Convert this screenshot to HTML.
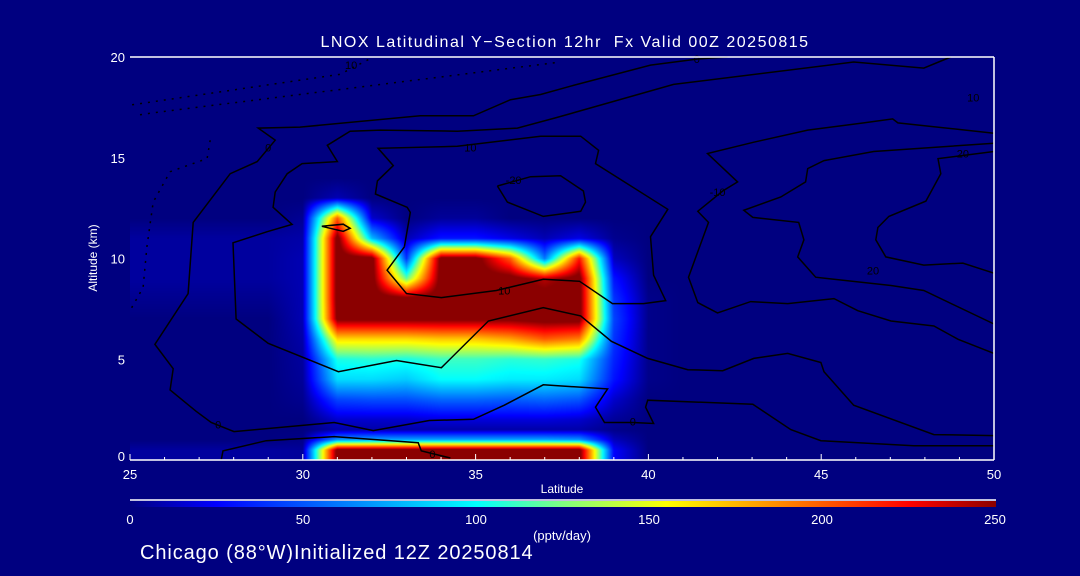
<!DOCTYPE html>
<html><head><meta charset="utf-8">
<style>
html,body{margin:0;padding:0;background:#000080;}
body{width:1080px;height:576px;position:relative;overflow:hidden;font-family:"Liberation Sans",sans-serif;color:#fff;}
.t{position:absolute;white-space:nowrap;}
</style></head>
<body>
<div class="t" style="left:0;width:1130px;top:34px;text-align:center;font-size:16px;letter-spacing:1.5px;">LNOX Latitudinal Y&#8722;Section 12hr&nbsp; Fx Valid 00Z 20250815</div>
<canvas id="hm" width="864" height="403" style="position:absolute;left:130px;top:57px;"></canvas>
<svg id="ov" width="1080" height="576" style="position:absolute;left:0;top:0;"></svg>
<div class="t" style="left:93px;top:258px;font-size:12px;transform:translate(-50%,-50%) rotate(-90deg);">Altitude (km)</div>
<div class="t" style="left:562px;top:482px;font-size:12px;transform:translateX(-50%);">Latitude</div>
<div class="t" style="left:562px;top:528px;font-size:13px;transform:translateX(-50%);">(pptv/day)</div>
<div class="t" style="left:140px;top:542px;font-size:20px;letter-spacing:0.9px;">Chicago (88°W)Initialized 12Z 20250814</div>
<script>
const lats=[25,26,27,28,29,30,31,32,33,34,35,36,37,38,39,40,41,42,43,44,45,46,47,48,49,50];
const alts=[0,0.5,1,1.5,2,3,4,5,6,7,8,9,10,11,12,13,14,20];
const Z=[0,0,0,0,0,0,0,0,0,0];
const row0=[6,6,6,6,6,5,260,260,260,260,260,260,260,260,25,0].concat(Z);
const row05=[6,6,6,6,6,5,260,260,260,260,260,260,260,260,25,0].concat(Z);
const row1=[0,0,0,0,0,2,70,75,75,75,75,75,75,70,12,0].concat(Z);
const row15=[0,0,0,0,0,0,8,8,8,8,8,8,8,8,2,0].concat(Z);
const row2=[0,0,0,0,0,0,15,15,15,18,18,18,18,15,5,0].concat(Z);
const row3=[0,0,0,0,0,3,45,48,48,55,55,52,55,50,15,0].concat(Z);
const row4=[0,0,0,0,0,5,90,90,85,100,100,95,95,90,30,2].concat(Z);
const row5=[0,0,0,0,0,6,105,108,105,112,112,108,110,105,35,2].concat(Z);
const row6=[0,0,0,0,0,8,165,165,165,170,170,180,200,190,40,2].concat(Z);
const row7=[0,0,0,0,0,10,255,255,255,255,255,255,260,260,45,2].concat(Z);
const row8=[3,3,3,3,3,10,260,260,260,260,260,260,260,260,40,2].concat(Z);
const row9=[6,6,6,6,6,10,260,260,120,260,260,260,240,260,30,0].concat(Z);
const row10=[6,6,6,6,6,10,260,260,40,260,260,200,60,220,12,0].concat(Z);
const row11=[6,6,6,6,6,8,260,80,10,30,30,20,10,20,3,0].concat(Z);
const row12=[0,0,0,0,0,4,200,15,0,5,5,0,0,0,0,0].concat(Z);
const row13=[0,0,0,0,0,0,10,0,0,0,0,0,0,0,0,0].concat(Z);
const row14=[0,0,0,0,0,0,0,0,0,0,0,0,0,0,0,0].concat(Z);
const row20=[0,0,0,0,0,0,0,0,0,0,0,0,0,0,0,0].concat(Z);
const grid=[row0,row05,row1,row15,row2,row3,row4,row5,row6,row7,row8,row9,row10,row11,row12,row13,row14,row20];
const xTicks=[25,30,35,40,45,50];
const yTicks=[0,5,10,15,20];
const cbTicks=[0,50,100,150,200,250];
const cZero=[[42.29,20],[41.43,19.9],[40.06,19.6],[37.83,18.59],[36.88,18.14],[36.01,17.88],[34.94,17.08],[33.4,17.08],[29.92,16.52],[28.71,16.47],[29.2,15.87],[28.68,14.81],[27.9,14.21],[26.83,11.79],[26.68,8.26],[25.72,5.74],[26.25,4.53],[26.16,3.48],[26.91,2.42],[27.35,1.86],[28.01,1.41],[30.91,1.86],[32.04,1.46],[33.66,1.96],[34.94,2.02],[35.83,2.72],[36.96,3.73],[38.82,3.53],[38.47,2.62],[38.73,1.86],[39.54,1.86],[40.15,1.81],[39.92,2.62],[39.98,2.97],[43.02,2.77],[44.12,1.51],[44.99,0.96],[47.68,0.71],[50,0.71]];
const cSurface=[[27.64,0],[27.69,0.45],[28.94,0.96],[30.91,1.16],[33.34,0.86],[33.43,0.45],[34.27,0.1]];
const cMinus10=[[48.75,20],[47.97,19.45],[45.94,19.75],[40.73,18.64],[37.31,16.98],[36.21,16.47],[34.47,16.32],[32.24,16.37],[31.37,16.32],[30.71,15.62],[31,14.81],[29.98,14.71],[29.55,14.21],[29.2,13.3],[29.14,12.54],[29.69,11.69],[28.97,11.33],[27.98,10.78],[28.07,7],[29,5.79],[31.03,4.38],[32.71,4.94],[34.01,4.58],[35.37,6.9],[36.96,7.56],[38.04,7.15],[38.93,5.89],[39.98,5.04],[41.14,4.48],[42.15,4.43],[43.05,5.04],[44.03,5.29],[44.99,4.84],[45.08,4.38],[45.94,2.72],[48.26,1.26],[50,1.21]];
const cTen=[[32.94,10.58],[32.44,9.42],[33,8.26],[34.01,8.06],[35.6,8.41],[36.96,8.97],[38.01,8.87],[38.96,7.76],[39.86,7.76],[40.5,7.91],[40.15,9.17],[40.06,11.08],[40.56,12.44],[38.47,14.71],[38.56,15.37],[38.04,16.07],[36.88,16.07],[34.47,15.57],[32.18,15.47],[32.62,14.61],[32.16,13.85],[32.1,13.2],[33.02,12.54],[33.11,12.29],[32.94,10.58]];
const cTwenty=[[35.63,13.6],[36.59,14.06],[37.46,14.11],[38.12,13.35],[38.18,12.8],[38.04,12.34],[36.96,12.09],[35.92,12.8],[35.63,13.6]];
const cColumn=[[50,16.22],[47.22,16.73],[47.07,16.93],[46.23,16.73],[44.61,16.37],[43.05,15.77],[41.71,15.21],[42.58,13.8],[42.15,13.35],[41.43,12.34],[41.74,11.79],[41.16,9.07],[41.43,7.81],[42,7.3],[42.96,7.86],[44.03,7.76],[45.37,8.01],[46.06,7.41],[47.02,6.9],[48.26,6.65],[48.96,5.99],[50,5.29]];
const cRight=[[50,15.72],[46.52,15.31],[45.08,14.86],[44.61,14.46],[44.55,13.8],[43.83,13.05],[42.76,12.39],[43.02,12.04],[44.35,11.79],[44.5,10.93],[44.32,10.08],[44.84,9.07],[47.02,8.66],[47.97,8.41],[50,6.75]];
const cInner=[[50,15.31],[48.38,14.96],[48.46,14.21],[48.03,12.85],[46.96,12.09],[46.64,11.54],[46.58,10.93],[46.87,10.08],[47.97,9.67],[49.1,9.77],[50,9.27]];
const cLens=[[30.55,11.6],[31.17,11.7],[31.37,11.5],[31.17,11.35],[30.55,11.6]];
const dOne=[[25.06,17.63],[31.08,19.14],[32.04,20]];
const dTwo=[[25.29,17.13],[25.67,17.23],[37.46,19.75]];
const dThree=[[27.32,15.87],[27.23,14.96],[26.16,14.31],[25.67,12.8],[25.49,10.58],[25.38,8.56],[25,7.41]];
const cLabels=[["0",27.55,1.75],["0",33.75,0.3],["0",39.55,1.9],["10",35.83,8.4],["10",34.85,15.5],["-10",42.0,13.3],["-20",36.1,13.9],["20",49.1,15.2],["0",29.0,15.5],["10",31.4,19.6],["0",41.4,19.9],["10",49.4,18.0],["20",46.5,9.4]];

const PX0=130,PX1=994,PY0=57,PY1=460;
const sx=l=>PX0+(l-25)/25*(PX1-PX0);
const sy=a=>PY1-a/20*(PY1-PY0);
const cstops=[[0,0,0,128],[0.1,0,0,255],[0.4,0,255,255],[0.5,128,255,128],[0.62,255,255,0],[0.9,255,0,0],[1,139,0,0]];
function cmap(v){let t=Math.max(0,Math.min(1,v/250));for(let i=1;i<cstops.length;i++){if(t<=cstops[i][0]){const a=cstops[i-1],b=cstops[i],f=(t-a[0])/(b[0]-a[0]);return[a[1]+f*(b[1]-a[1]),a[2]+f*(b[2]-a[2]),a[3]+f*(b[3]-a[3])];}}return[139,0,0];}
function findIdx(arr,v){let i=0;while(i<arr.length-2&&v>arr[i+1])i++;return i;}
(function(){
const cv=document.getElementById('hm'),ctx=cv.getContext('2d');
const W=cv.width,H=cv.height,img=ctx.createImageData(W,H);
for(let py=0;py<H;py++){const a=(PY1-(PY0+py+0.5))/(PY1-PY0)*20;const j=findIdx(alts,a);const fa=Math.max(0,Math.min(1,(a-alts[j])/(alts[j+1]-alts[j])));
for(let px=0;px<W;px++){const l=25+(px+0.5)/W*25;const i=findIdx(lats,l);const fl=Math.max(0,Math.min(1,(l-lats[i])/(lats[i+1]-lats[i])));
const v=(grid[j][i]*(1-fl)+grid[j][i+1]*fl)*(1-fa)+(grid[j+1][i]*(1-fl)+grid[j+1][i+1]*fl)*fa;
const c=cmap(v),k=(py*W+px)*4;img.data[k]=c[0];img.data[k+1]=c[1];img.data[k+2]=c[2];img.data[k+3]=255;}}
ctx.putImageData(img,0,0);
})();
const NS='http://www.w3.org/2000/svg',svgEl=document.getElementById('ov');
function mk(tag,at){const e=document.createElementNS(NS,tag);for(const k in at)e.setAttribute(k,at[k]);svgEl.appendChild(e);return e;}
function drawLine(pts,name,dash){const e=mk('polyline',{points:pts.map(p=>sx(p[0]).toFixed(1)+','+sy(p[1]).toFixed(1)).join(' '),fill:'none',stroke:'#000','stroke-width':1.5,'stroke-dasharray':dash?'2 6':'none'});

}
drawLine(cZero,'contour-zero');drawLine(cSurface,'contour-surface');drawLine(cMinus10,'contour-outer');drawLine(cTen,'contour-ten');drawLine(cTwenty,'contour-twenty');
drawLine(cColumn,'contour-column');drawLine(cRight,'contour-right');drawLine(cInner,'contour-inner-right');drawLine(cLens,'contour-lens');
drawLine(dOne,'contour-dotted-1',1);drawLine(dTwo,'contour-dotted-2',1);drawLine(dThree,'contour-dotted-3',1);
cLabels.forEach(c=>{const t=mk('text',{x:sx(c[1]),y:sy(c[2])+4,'text-anchor':'middle','font-size':11,fill:'#000','font-family':'Liberation Sans, sans-serif'});t.textContent=c[0];

});
const frameTop=mk('line',{x1:PX0,y1:PY0,x2:PX1,y2:PY0,stroke:'#fff','stroke-width':1.5});


const frameRight=mk('line',{x1:PX1,y1:PY0,x2:PX1,y2:PY1,stroke:'#fff','stroke-width':1.5});


const frameBottom=mk('line',{x1:PX0,y1:PY1,x2:PX1,y2:PY1,stroke:'#fff','stroke-width':1.5});


for(let l=25;l<=50;l++){const tk=mk('line',{x1:sx(l),y1:PY1,x2:sx(l),y2:PY1-(l%5===0?6:3),stroke:'#fff','stroke-width':1});

}
xTicks.forEach(l=>{const t=mk('text',{x:sx(l),y:479,'text-anchor':'middle','font-size':13,fill:'#fff','font-family':'Liberation Sans, sans-serif'});t.textContent=l;

});
yTicks.forEach(a=>{const t=mk('text',{x:125,y:sy(a)+(a===0?1:5),'text-anchor':'end','font-size':13,fill:'#fff','font-family':'Liberation Sans, sans-serif'});t.textContent=a;

});
const defs=mk('defs',{});const grad=document.createElementNS(NS,'linearGradient');grad.setAttribute('id','cb');defs.appendChild(grad);
cstops.forEach(s=>{const st=document.createElementNS(NS,'stop');st.setAttribute('offset',s[0]);st.setAttribute('stop-color','rgb('+s[1]+','+s[2]+','+s[3]+')');grad.appendChild(st);});
const cbl=mk('line',{x1:130,y1:500,x2:996,y2:500,stroke:'#fff','stroke-width':1.5});


const cbRect=mk('rect',{x:130,y:501,width:866,height:6,fill:'url(#cb)'});


cbTicks.forEach(v=>{const t=mk('text',{x:130+v/250*865,y:524,'text-anchor':'middle','font-size':13,fill:'#fff','font-family':'Liberation Sans, sans-serif'});t.textContent=v;

});
</script>
</body></html>
